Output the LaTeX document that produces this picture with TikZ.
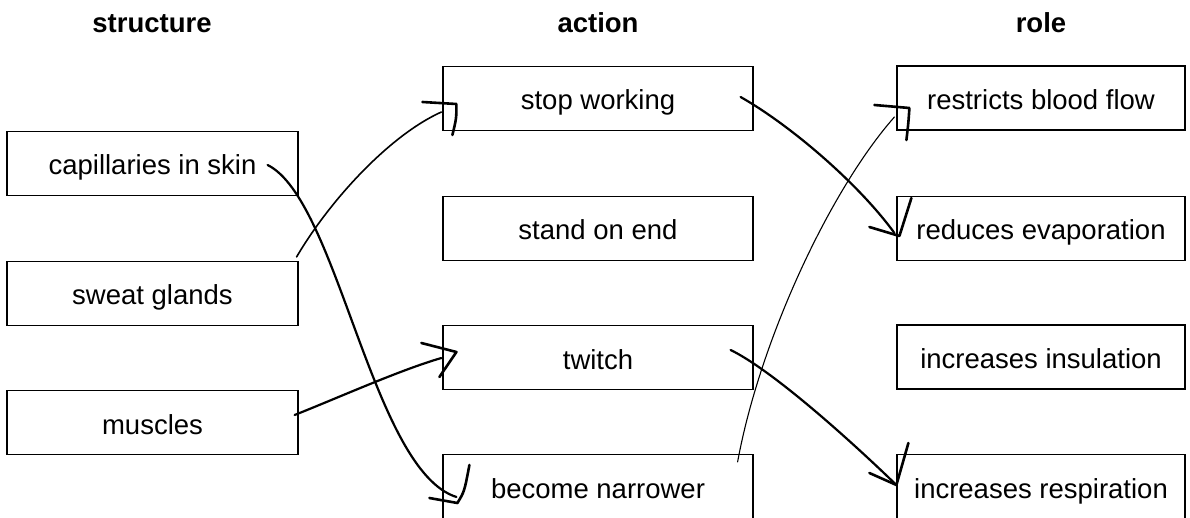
\documentclass[tikz,border=0pt]{standalone}
\usepackage{fontspec}
\setmainfont{Liberation Sans}
\usetikzlibrary{calc}
\begin{document}
\begin{tikzpicture}[x=1pt,y=-1pt]
\tikzset{
  box/.style={draw, line width=1.2pt, inner sep=0pt, text height=25pt, text depth=2pt,
    minimum height=64pt, font=\fontsize{27.5}{30}\selectfont},
  lbox/.style={box, minimum width=291pt},
  mbox/.style={box, minimum width=310pt},
  rbox/.style={box, minimum width=288pt},
  head/.style={anchor=base, inner sep=0pt, font=\bfseries\fontsize{27.5}{30}\selectfont},
  pen/.style={line width=2.2pt, line cap=round, line join=round},
  midpen/.style={line width=1.6pt, line cap=round, line join=round},
  thinpen/.style={line width=1.1pt, line cap=round, line join=round},
  tickmark/.style={line width=2.6pt, line cap=round, line join=round},
}
\useasboundingbox (0,0) rectangle (1190,518);
\clip (0,0) rectangle (1190,518);
% headers
\node[head] (hs) at (152,33) {structure};
\node[head] (ha) at (598,33) {action};
\node[head] (hr) at (1041,33) {role};
% left column
\node[lbox] (cap) at (152.5,163.5) {capillaries in skin};
\node[lbox] (sweat) at (152.5,293.5) {sweat glands};
\node[lbox] (musc) at (152.5,422.5) {muscles};
% middle column
\node[mbox] (stop) at (598,98.5) {stop working};
\node[mbox] (stand) at (598,228.5) {stand on end};
\node[mbox] (twitch) at (598,357.5) {twitch};
\node[mbox] (narrow) at (598,486.5) {become narrower};
% right column
\node[rbox] (restr) at (1041,98) {restricts blood flow};
\node[rbox] (evap) at (1041,228.5) {reduces evaporation};
\node[rbox] (insul) at (1041,357) {increases insulation};
\node[rbox] (resp) at (1041,486.5) {increases respiration};
% connectors
\draw[pen] ($(cap.east)+(-31,1.5)$) .. controls (338,200) and (372,470) .. ($(narrow.west)+(14,10.5)$);
\draw[midpen] ($(sweat.north east)+(-2,-4)$) .. controls (330,200) and (390,135) .. ($(stop.west)+(-1,13.5)$);
\draw[pen] ($(musc.east)+(-4,-7.5)$) .. controls (340,397) and (400,370) .. ($(twitch.west)+(-1,0.5)$);
\draw[pen] ($(stop.east)+(-13,-1.5)$) .. controls (790,125) and (858,183) .. ($(evap.west)+(-2,4.5)$);
\draw[pen] ($(twitch.east)+(-23,-7.5)$) .. controls (772,370) and (850,440) .. ($(resp.west)+(0,-1.5)$);
\draw[thinpen] ($(narrow.north east)+(-16,8)$) .. controls (760,340) and (830,190) .. ($(restr.west)+(-2,19)$);
% tick marks
\draw[tickmark] ($(narrow.west)+(-13,11.5)$) -- ($(narrow.west)+(15,16.5)$) .. controls ($(narrow.west)+(22,5)$) .. ($(narrow.west)+(27,-21.5)$);
\draw[tickmark] ($(stop.west)+(-20,3.5)$) -- ($(stop.west)+(14,5.5)$) .. controls ($(stop.west)+(14,20)$) .. ($(stop.west)+(10,36.5)$);
\draw[tickmark] ($(twitch.west)+(-21,-14.5)$) -- ($(twitch.west)+(14,-5.5)$) -- ($(twitch.west)+(-3,19.5)$);
\draw[tickmark] ($(evap.west)+(-27,-1.5)$) -- ($(evap.west)+(3,7.5)$) -- ($(evap.west)+(15,-30.5)$);
\draw[tickmark] ($(resp.west)+(-27,-13.5)$) -- ($(resp.west)+(0,-1.5)$) -- ($(resp.west)+(12,-43.5)$);
\draw[tickmark] ($(restr.west)+(-22,7)$) -- ($(restr.west)+(13,10)$) .. controls ($(restr.west)+(12,25)$) .. ($(restr.west)+(10,42)$);
\end{tikzpicture}
\end{document}
